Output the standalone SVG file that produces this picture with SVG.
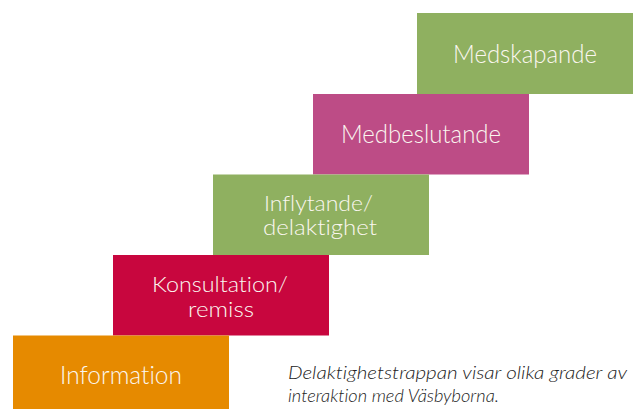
<svg xmlns="http://www.w3.org/2000/svg" width="633" height="409" viewBox="0 0 633 409">
<style>
.lbl{font-family:Lato,"Open Sans","Liberation Sans",sans-serif;font-size:25px;fill:#fbf7f0;text-anchor:middle;font-weight:300;font-variant-ligatures:none}
.two{font-size:22px}
.cap{font-family:Lato,"Open Sans","Liberation Sans",sans-serif;font-size:18px;fill:#222;font-style:italic;font-weight:300;font-variant-ligatures:none}
</style>
<rect width="633" height="409" fill="#fff"/>
<g id="medskapande">
<rect x="417" y="13" width="216" height="81" fill="#8FB060"/>
<text class="lbl" x="525" y="62.5" textLength="144" lengthAdjust="spacingAndGlyphs">Medskapande</text>
</g>
<g id="medbeslutande">
<rect x="313" y="94" width="216" height="80.5" fill="#BD4C86"/>
<text class="lbl" x="421" y="143.3" textLength="160" lengthAdjust="spacingAndGlyphs">Medbeslutande</text>
</g>
<g id="inflytande">
<rect x="213" y="174.5" width="216" height="80.5" fill="#8FB060"/>
<text class="lbl two" x="318.5" y="210.7" textLength="109" lengthAdjust="spacingAndGlyphs">Inflytande/</text>
<text class="lbl two" x="320" y="235" textLength="114" lengthAdjust="spacingAndGlyphs">delaktighet</text>
</g>
<g id="konsultation">
<rect x="113" y="255" width="216" height="80.5" fill="#C8063E"/>
<text class="lbl two" x="220" y="291.7" textLength="136" lengthAdjust="spacingAndGlyphs">Konsultation/</text>
<text class="lbl two" x="221" y="317.3" textLength="66" lengthAdjust="spacingAndGlyphs">remiss</text>
</g>
<g id="information">
<rect x="13" y="335.5" width="216" height="80" fill="#E68A00"/>
<text class="lbl" x="121" y="384" textLength="122" lengthAdjust="spacingAndGlyphs">Information</text>
</g>
<g id="connectors"></g>
<g id="caption">
<text class="cap" x="288" y="379" textLength="339" lengthAdjust="spacingAndGlyphs">Delaktighetstrappan visar olika grader av</text>
<text class="cap" x="288" y="402" textLength="211" lengthAdjust="spacingAndGlyphs">interaktion med Väsbyborna.</text>
</g>
</svg>
